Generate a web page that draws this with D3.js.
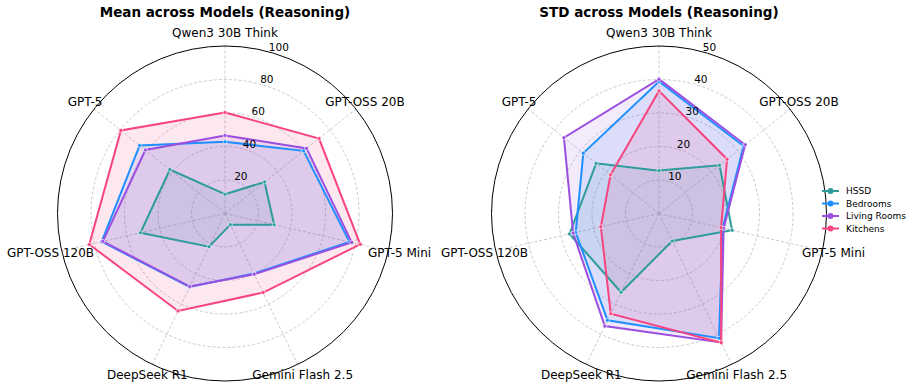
<!DOCTYPE html>
<html lang="en">
<head>
<meta charset="UTF-8">
<title>Radar charts (Reasoning)</title>
<script src="https://d3js.org/d3.v7.min.js"></script>
<style>
    body { margin: 0; background: #fff; }
    svg text { font-family: "DejaVu Sans", sans-serif; fill: #000; }
    .title { font-size: 13.5px; font-weight: bold; }
    .cat { font-size: 12px; }
    .tick { font-size: 10.5px; }
    .leg { font-size: 9px; }
</style>
</head>
<body>
<svg width="913" height="388"></svg>
<script>
    const categories = ["Qwen3 30B Think", "GPT-OSS 20B", "GPT-5 Mini", "Gemini Flash 2.5",
        "DeepSeek R1", "GPT-OSS 120B", "GPT-5"];
    const seriesNames = ["HSSD", "Bedrooms", "Living Rooms", "Kitchens"];
    const colors = ["#2e9c9a", "#1e8fff", "#9b4fe0", "#f8457f"];

    // mean across models
    const meanHSSD = [11.5, 30.2, 30.1, 7.4, 22.0, 51.8, 42.1];
    const meanBedrooms = [42.8, 60.0, 76.2, 39.8, 48.7, 75.5, 65.2];
    const meanLiving = [46.6, 62.3, 77.6, 40.2, 48.4, 74.8, 60.8];
    const meanKitchens = [60.3, 71.8, 82.8, 52.4, 64.6, 83.1, 79.5];
    const meanTicks = [20, 40, 60, 80, 100];

    // std across models
    const stdHSSD = [12.8, 23.1, 22.4, 9.1, 26.1, 27.4, 24.0];
    const stdBedrooms = [39.4, 32.3, 19.5, 41.3, 35.4, 25.5, 28.9];
    const stdLiving = [40.1, 32.9, 19.8, 42.7, 37.3, 26.3, 36.3];
    const stdKitchens = [36.6, 26.0, 19.0, 42.8, 33.2, 17.8, 18.5];
    const stdTicks = [10, 20, 30, 40, 50];

    const svg = d3.select("svg");
    const R = 167.5;

    function radar(cx, cy, title, series, ticks, max) {
        const g = svg.append("g").attr("transform", `translate(${cx},${cy})`);
        const r = d3.scaleLinear().domain([0, max]).range([0, R]);
        const ang = d3.scaleLinear().domain([0, categories.length]).range([0, 2 * Math.PI]);

        // grid rings
        g.selectAll("circle.ring")
            .data(ticks.slice(0, -1))
            .enter()
            .append("circle")
            .attr("r", d => r(d))
            .attr("fill", "none")
            .attr("stroke", "#bdbdbd")
            .attr("stroke-width", 0.8)
            .attr("stroke-dasharray", "3,2");

        // spokes
        g.selectAll("line.spoke")
            .data(categories)
            .enter()
            .append("line")
            .attr("x1", 0).attr("y1", 0)
            .attr("x2", (d, i) => R * Math.sin(ang(i)))
            .attr("y2", (d, i) => -R * Math.cos(ang(i)))
            .attr("stroke", "#bdbdbd")
            .attr("stroke-width", 0.8)
            .attr("stroke-dasharray", "3,2");

        // outer circle
        g.append("circle")
            .attr("r", R)
            .attr("fill", "none")
            .attr("stroke", "#000")
            .attr("stroke-width", 1);

        const line = d3.lineRadial()
            .angle((d, i) => ang(i))
            .radius(d => r(d))
            .curve(d3.curveLinearClosed);

        // fills
        g.selectAll("path.area")
            .data(series)
            .enter()
            .append("path")
            .attr("d", d => line(d))
            .attr("fill", (d, i) => colors[i])
            .attr("fill-opacity", 0.12)
            .attr("stroke", "none");

        // lines and markers
        series.forEach(function (vals, s) {
            g.append("path")
                .attr("d", line(vals))
                .attr("fill", "none")
                .attr("stroke", colors[s])
                .attr("stroke-width", 2)
                .attr("stroke-linejoin", "miter");

            g.selectAll(null)
                .data(vals)
                .enter()
                .append("circle")
                .attr("cx", (d, i) => r(d) * Math.sin(ang(i)))
                .attr("cy", (d, i) => -r(d) * Math.cos(ang(i)))
                .attr("r", 2)
                .attr("fill", colors[s])
                .attr("stroke", "#fff")
                .attr("stroke-width", 0.6);
        });

        // tick labels
        const tAng = 15 * Math.PI / 180;
        g.selectAll("text.tick")
            .data(ticks)
            .enter()
            .append("text")
            .attr("class", "tick")
            .attr("x", d => r(d) * Math.sin(tAng) + 0.5)
            .attr("y", d => -r(d) * Math.cos(tAng) - 1)
            .text(d => d);

        // category labels
        g.selectAll("text.cat")
            .data(categories)
            .enter()
            .append("text")
            .attr("class", "cat")
            .attr("text-anchor", "middle")
            .attr("dominant-baseline", "central")
            .attr("x", (d, i) => 179 * Math.sin(ang(i)))
            .attr("y", (d, i) => -(i === 0 ? 181 : 179) * Math.cos(ang(i)))
            .text(d => d);

        // title
        svg.append("text")
            .attr("class", "title")
            .attr("text-anchor", "middle")
            .attr("x", cx)
            .attr("y", 17)
            .text(title);
    }

    radar(225, 213.5, "Mean across Models (Reasoning)",
        [meanHSSD, meanBedrooms, meanLiving, meanKitchens], meanTicks, 100);
    radar(659, 213.5, "STD across Models (Reasoning)",
        [stdHSSD, stdBedrooms, stdLiving, stdKitchens], stdTicks, 50);

    // legend
    const leg = svg.append("g").attr("transform", "translate(822,191)");
    const item = leg.selectAll("g")
        .data(seriesNames)
        .enter()
        .append("g")
        .attr("transform", (d, i) => `translate(0,${i * 12.5})`);
    item.append("line")
        .attr("x1", 0).attr("x2", 17)
        .attr("stroke", (d, i) => colors[i])
        .attr("stroke-width", 2);
    item.append("circle")
        .attr("cx", 8.5)
        .attr("r", 3)
        .attr("fill", (d, i) => colors[i]);
    item.append("text")
        .attr("class", "leg")
        .attr("x", 24)
        .attr("dy", "0.35em")
        .text(d => d);
</script>
</body>
</html>
